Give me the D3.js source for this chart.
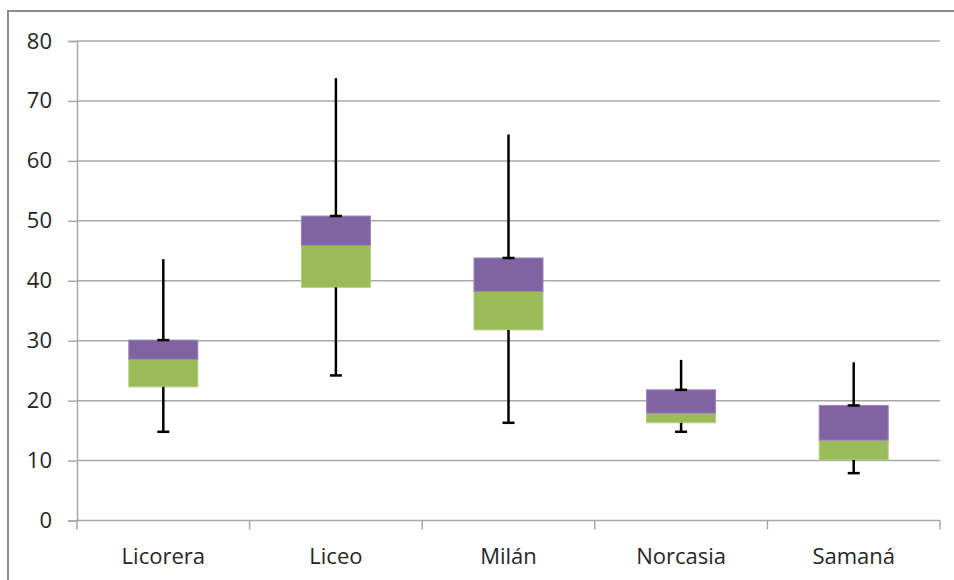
<!DOCTYPE html>
<html>
<head>
<meta charset="utf-8">
<script src="https://cdn.jsdelivr.net/npm/d3@7"></script>
<style>
  html, body { margin: 0; padding: 0; background: #fff; }
  svg { display: block; }
</style>
</head>
<body>
<svg id="chart" width="954" height="580"></svg>
<script>
const categories = ["Licorera", "Liceo", "Milán", "Norcasia", "Samaná"];
const q1Values     = [22.3, 38.9, 31.8, 16.3, 10.1];
const medianValues = [26.9, 45.9, 38.2, 17.9, 13.4];
const q3Values     = [30.1, 50.8, 43.8, 21.8, 19.2];
const minValues    = [14.8, 24.2, 16.3, 14.8, 7.9];
const maxValues    = [43.6, 73.8, 64.4, 26.8, 26.4];
const yTicks = [0, 10, 20, 30, 40, 50, 60, 70, 80];

const svg = d3.select("#chart");
const font = "'Open Sans', 'DejaVu Sans', sans-serif";

// outer chart border
svg.append("rect")
  .attr("x", 8).attr("y", 11)
  .attr("width", 980).attr("height", 620)
  .attr("fill", "none").attr("stroke", "#8c8c8c").attr("stroke-width", 2);

const x = d3.scaleBand().domain(categories)
  .range([77, 940]).paddingInner(0.6).paddingOuter(0.3);
const y = d3.scaleLinear().domain([0, 80]).range([520.5, 41]);

// gridlines
svg.append("g").selectAll("line").data(yTicks.filter(d => d > 0)).join("line")
  .attr("x1", 77).attr("x2", 940)
  .attr("y1", d => y(d)).attr("y2", d => y(d))
  .attr("stroke", "#a8a8a8").attr("stroke-width", 1.5);

// y axis
const yAxis = svg.append("g").attr("transform", "translate(77,0)")
  .call(d3.axisLeft(y).tickValues(yTicks).tickSize(9).tickPadding(16).tickFormat(d3.format("d")));
yAxis.select(".domain").attr("stroke", "#a8a8a8").attr("stroke-width", 1.5);
yAxis.selectAll(".tick line").attr("stroke", "#a8a8a8").attr("stroke-width", 1.5);
yAxis.selectAll(".tick text")
  .attr("font-family", font).attr("font-size", 22).attr("fill", "#262626");

// x axis
const step = x.step();
const boundaries = d3.range(categories.length + 1).map(i => 77 + i * (863 / categories.length));
const xg = svg.append("g");
xg.append("line").attr("x1", 77).attr("x2", 940).attr("y1", y(0)).attr("y2", y(0))
  .attr("stroke", "#a8a8a8").attr("stroke-width", 1.5);
xg.selectAll("line.tk").data(boundaries).join("line").attr("class", "tk")
  .attr("x1", d => d).attr("x2", d => d)
  .attr("y1", y(0)).attr("y2", y(0) + 9)
  .attr("stroke", "#a8a8a8").attr("stroke-width", 1.5);
xg.selectAll("text").data(categories).join("text")
  .attr("x", d => x(d) + x.bandwidth() / 2)
  .attr("y", 564)
  .attr("text-anchor", "middle")
  .attr("font-family", font).attr("font-size", 22).attr("fill", "#262626")
  .text(d => d);

const data = categories.map((c, i) => ({
  c, q1: q1Values[i], med: medianValues[i], q3: q3Values[i], min: minValues[i], max: maxValues[i]
}));

const bw = x.bandwidth();
// green lower box (q1 -> median)
svg.append("g").selectAll("rect").data(data).join("rect")
  .attr("x", d => x(d.c)).attr("width", bw)
  .attr("y", d => y(d.med)).attr("height", d => y(d.q1) - y(d.med))
  .attr("fill", "#9BBB59").attr("stroke", "#b4cf84").attr("stroke-width", 1);
// purple upper box (median -> q3)
svg.append("g").selectAll("rect").data(data).join("rect")
  .attr("x", d => x(d.c)).attr("width", bw)
  .attr("y", d => y(d.q3)).attr("height", d => y(d.med) - y(d.q3))
  .attr("fill", "#8064A2").attr("stroke", "#9d86bb").attr("stroke-width", 1);

const capW = 12;
const wg = svg.append("g").attr("stroke", "#000").attr("stroke-width", 2.5);
data.forEach(d => {
  const cx = x(d.c) + bw / 2;
  // upper whisker
  wg.append("line").attr("x1", cx).attr("x2", cx).attr("y1", y(d.q3)).attr("y2", y(d.max));
  wg.append("line").attr("x1", cx - capW / 2).attr("x2", cx + capW / 2).attr("y1", y(d.q3)).attr("y2", y(d.q3));
  // lower whisker
  wg.append("line").attr("x1", cx).attr("x2", cx).attr("y1", y(d.q1)).attr("y2", y(d.min));
  wg.append("line").attr("x1", cx - capW / 2).attr("x2", cx + capW / 2).attr("y1", y(d.min)).attr("y2", y(d.min));
});
</script>
</body>
</html>
